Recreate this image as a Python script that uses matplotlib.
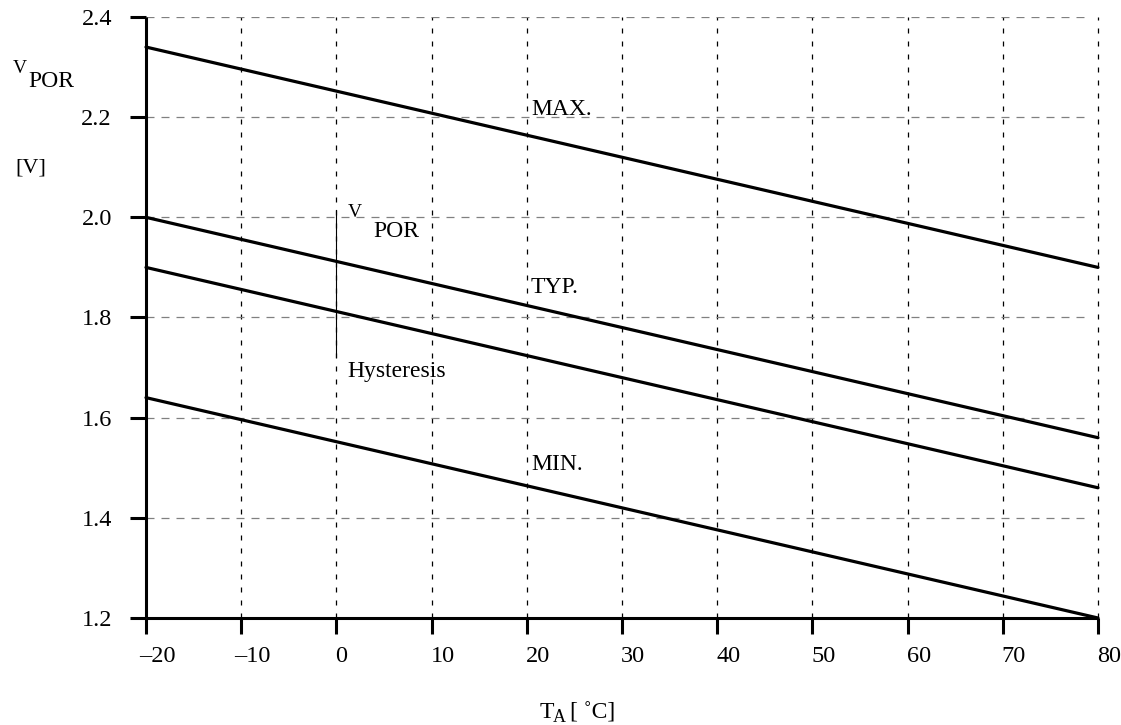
import matplotlib
matplotlib.use("Agg")
import matplotlib.pyplot as plt
from matplotlib.transforms import ScaledTranslation

plt.rcParams['font.family'] = ['Liberation Serif', 'DejaVu Serif']

# Ambient temperature endpoints and threshold voltages
temp = [-20, 80]
v_max = [2.34, 1.90]
v_typ_rise = [2.00, 1.56]
v_typ_fall = [1.90, 1.46]
v_min = [1.64, 1.20]

x_ticks = [-20, -10, 0, 10, 20, 30, 40, 50, 60, 70, 80]
x_tick_labels = ['\u201320', '\u201310', '0', '10', '20', '30', '40', '50', '60', '70', '80']
y_ticks = [1.2, 1.4, 1.6, 1.8, 2.0, 2.2, 2.4]
y_tick_labels = ['1.2', '1.4', '1.6', '1.8', '2.0', '2.2', '2.4']

W, H = 1121, 725
fig = plt.figure(figsize=(W / 100, H / 100), dpi=100)
ax = fig.add_axes([146 / W, 1 - 618 / H, (1098 - 146) / W, (618 - 17) / H])

ax.set_xlim(-20, 80)
ax.set_ylim(1.2, 2.4)

# grid: vertical black dashes, horizontal grey dashes
for xv in x_ticks[1:]:
    ax.axvline(xv, color='black', lw=0.9, ls=(0, (4, 6.4)), zorder=1,
               clip_on=False)
for yv in y_ticks[1:]:
    ax.hlines(yv, -20, 79, color='#808080', lw=0.9, ls=(0, (6.4, 5.6)),
              zorder=1)

for series in (v_max, v_typ_rise, v_typ_fall, v_min):
    ax.plot(temp, series, color='black', lw=2.3, solid_capstyle='round',
            clip_on=False, zorder=3)

# hysteresis marker
ax.plot([0, 0], [2.015, 1.721], color='black', lw=0.8, zorder=2)

fs = 17
ax.text(20.44, 2.204, 'MAX.', fontsize=fs, va='baseline')
ax.text(20.44, 1.849, 'TYP.', fontsize=fs, va='baseline')
ax.text(20.44, 1.495, 'MIN.', fontsize=fs, va='baseline')
ax.text(1.22, 2.0, 'V', fontsize=14, va='baseline')
ax.text(3.84, 1.961, 'POR', fontsize=fs, va='baseline')
ax.text(1.11, 1.681, 'Hysteresis', fontsize=fs, va='baseline')

for side in ('top', 'right'):
    ax.spines[side].set_visible(False)
for side in ('left', 'bottom'):
    ax.spines[side].set_linewidth(2.2)
    ax.spines[side].set_capstyle('butt')

ax.set_xticks(x_ticks)
ax.set_xticklabels(x_tick_labels)
ax.set_yticks(y_ticks)
ax.set_yticklabels(y_tick_labels)
ax.tick_params(axis='both', direction='out', length=11.5, width=2.2,
               labelsize=17.5)
ax.tick_params(axis='y', pad=13)
ax.tick_params(axis='x', pad=9)

# x labels start at their tick; a leading minus hangs to the left
for lab in ax.get_xticklabels():
    dx_px = -7 if lab.get_text().startswith('\u2013') else -1
    lab.set_horizontalalignment('left')
    lab.set_transform(lab.get_transform()
                      + ScaledTranslation(dx_px / 100, 0, fig.dpi_scale_trans))

# axis titles built from separate pieces
def ftext(px, py, s, size):
    fig.text(px / W, 1 - py / H, s, fontsize=size, va='baseline', ha='left')

ftext(13, 73, 'V', 14)
ftext(28, 87, 'POR', fs)
ftext(15, 173, '[V]', 16)
ftext(540, 718, 'T', fs)
ftext(553, 722, 'A', 13)
ftext(570, 718, '[ \u02DAC]', fs)

fig.savefig('out.png', dpi=100)
